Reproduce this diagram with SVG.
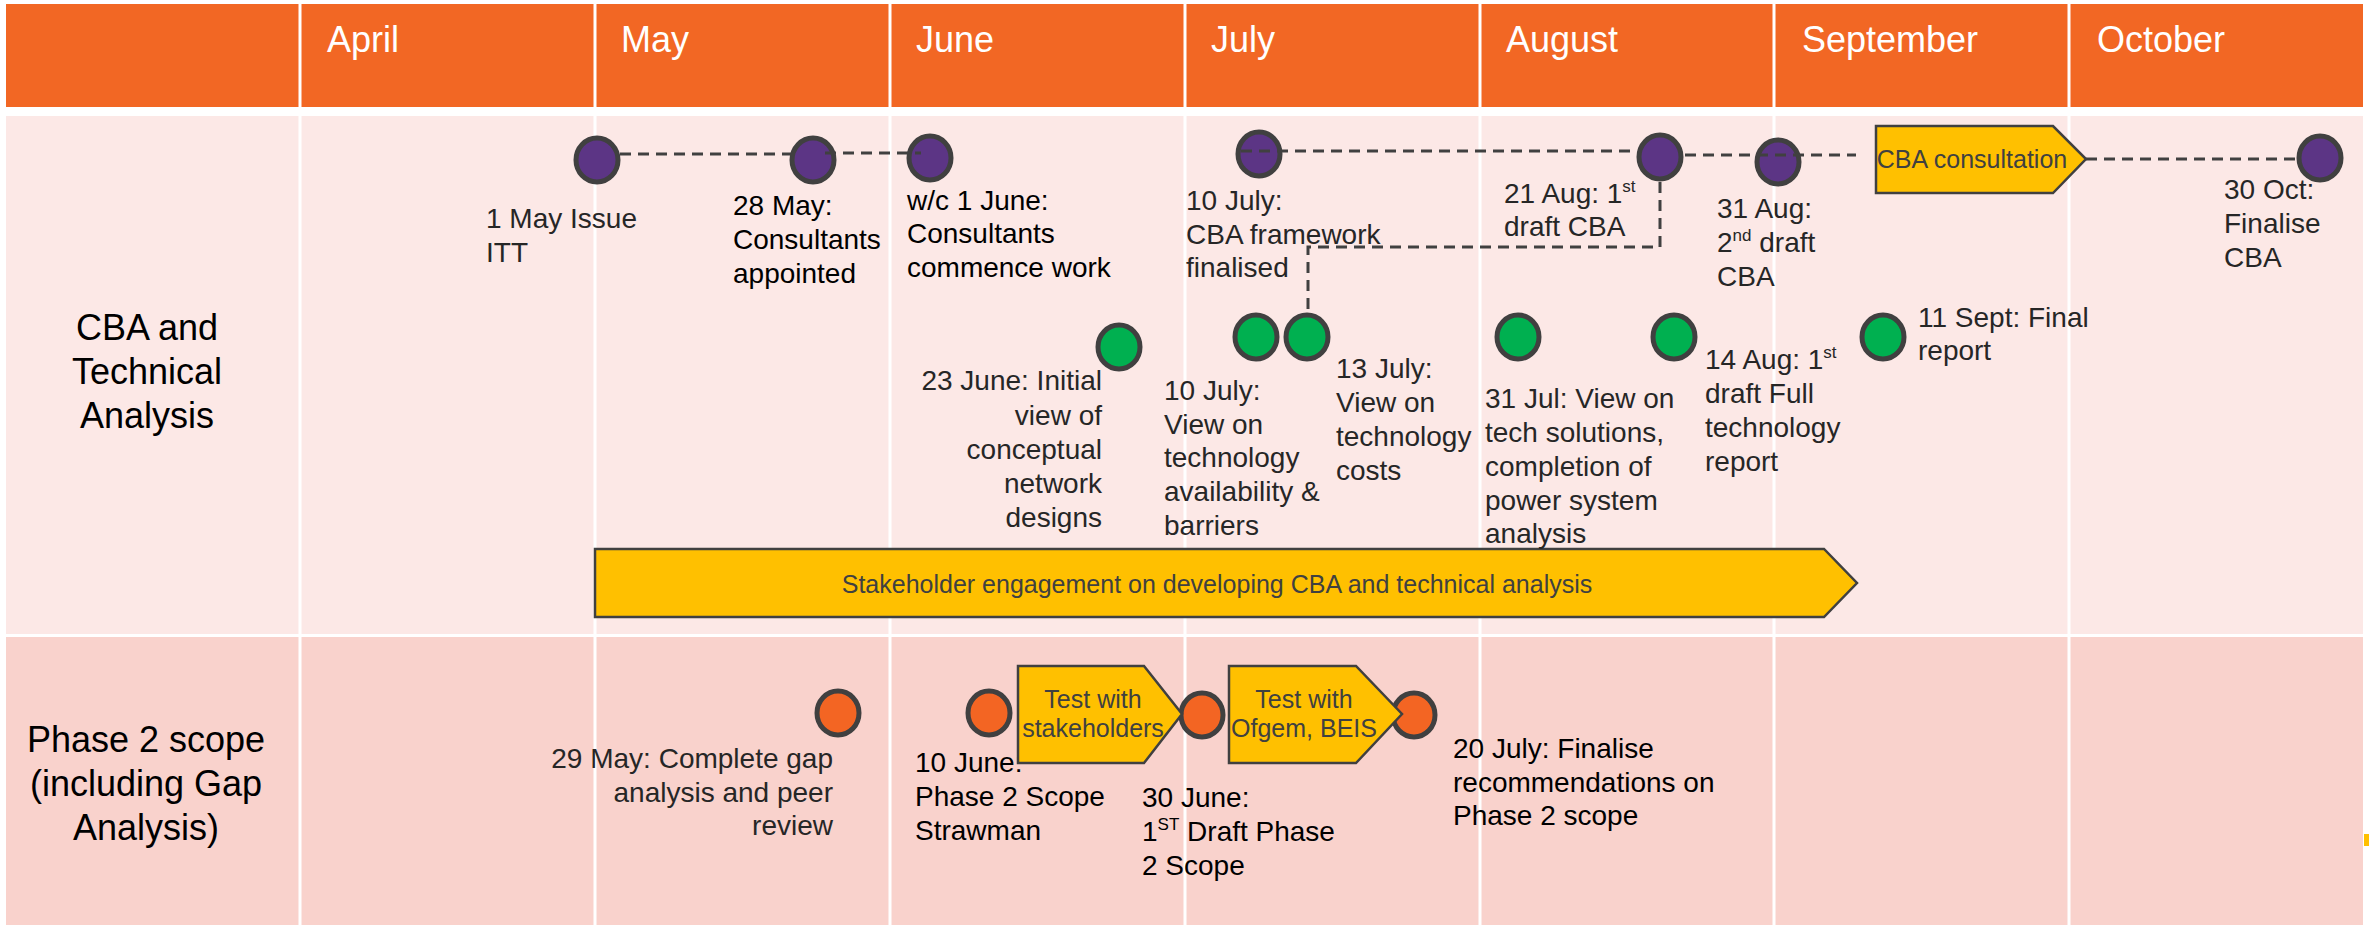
<svg xmlns="http://www.w3.org/2000/svg" width="2369" height="925" viewBox="0 0 2369 925">
<style>
text{font-family:"Liberation Sans",Arial,sans-serif}
.month{font-size:36px;fill:#fff}
.row{font-size:36px;fill:#000;text-anchor:middle}
.lbl{font-size:28px;fill:#262626}
.lblk{font-size:28px;fill:#000}
.r{text-anchor:end}
.sup{font-size:17px}
.ms{stroke:#404040;stroke-width:5}
.pur{fill:#5C3585}
.grn{fill:#00B050}
.org{fill:#F36523}
.arrow{fill:#FFC000;stroke:#404040;stroke-width:2.5}
.atxt{font-size:25px;fill:#404040;text-anchor:middle}
.dash{fill:none;stroke:#404040;stroke-width:3;stroke-dasharray:11 7}
.sep{stroke:#fff;stroke-width:3}
</style>
<rect width="2369" height="925" fill="#fff"/>
<g id="grid">
<rect x="6" y="4" width="2357" height="103" fill="#F26724"/>
<rect x="6" y="116" width="2357" height="518" fill="#FCE8E6"/>
<rect x="6" y="637" width="2357" height="288" fill="#F9D2CC"/>
<line class="sep" x1="300" y1="0" x2="300" y2="925"/>
<line class="sep" x1="595" y1="0" x2="595" y2="925"/>
<line class="sep" x1="890" y1="0" x2="890" y2="925"/>
<line class="sep" x1="1185" y1="0" x2="1185" y2="925"/>
<line class="sep" x1="1480" y1="0" x2="1480" y2="925"/>
<line class="sep" x1="1774" y1="0" x2="1774" y2="925"/>
<line class="sep" x1="2069" y1="0" x2="2069" y2="925"/>
<rect x="2364" y="834" width="6" height="12" fill="#FFC000"/>
</g>
<g id="months">
<text class="month" x="327" y="52">April</text>
<text class="month" x="621" y="52">May</text>
<text class="month" x="916" y="52">June</text>
<text class="month" x="1211" y="52">July</text>
<text class="month" x="1506" y="52">August</text>
<text class="month" x="1802" y="52">September</text>
<text class="month" x="2097" y="52">October</text>
</g>
<g id="row-cba">
<text class="row"><tspan x="147" y="340">CBA and</tspan><tspan x="147" y="384">Technical</tspan><tspan x="147" y="428">Analysis</tspan></text>
</g>
<g id="row-phase2">
<text class="row"><tspan x="146" y="752">Phase 2 scope</tspan><tspan x="146" y="796">(including Gap</tspan><tspan x="146" y="840">Analysis)</tspan></text>
</g>
<g id="stakeholder-engagement">
<polygon class="arrow" points="595,549 1824,549 1857,583 1824,617 595,617"/>
<text class="atxt" x="1217" y="593">Stakeholder engagement on developing CBA and technical analysis</text>
</g>
<g id="cba-consultation">
<polygon class="arrow" points="1876,126 2053,126 2086,159 2053,193 1876,193"/>
<text class="atxt" x="1972" y="168">CBA consultation</text>
</g>
<g id="m-1may">
<ellipse class="ms pur" cx="597" cy="160" rx="21" ry="22"/>
<text class="lbl"><tspan x="486" y="228">1 May Issue</tspan><tspan x="486" y="262">ITT</tspan></text>
</g>
<g id="m-28may">
<ellipse class="ms pur" cx="813" cy="160" rx="21" ry="22"/>
<text class="lblk"><tspan x="733" y="215">28 May:</tspan><tspan x="733" y="249">Consultants</tspan><tspan x="733" y="283">appointed</tspan></text>
</g>
<g id="m-1june">
<ellipse class="ms pur" cx="930" cy="158" rx="21" ry="22"/>
<text class="lblk"><tspan x="907" y="210">w/c 1 June:</tspan><tspan x="907" y="243">Consultants</tspan><tspan x="907" y="277">commence work</tspan></text>
</g>
<g id="m-10july-cba">
<ellipse class="ms pur" cx="1259" cy="154" rx="21" ry="22"/>
<text class="lbl"><tspan x="1186" y="210">10 July:</tspan><tspan x="1186" y="244">CBA framework</tspan><tspan x="1186" y="277">finalised</tspan></text>
</g>
<g id="m-21aug">
<ellipse class="ms pur" cx="1660" cy="157" rx="21" ry="22"/>
<text class="lbl"><tspan x="1504" y="203">21 Aug: 1</tspan><tspan class="sup" dy="-11">st</tspan><tspan x="1504" y="236">draft CBA</tspan></text>
</g>
<g id="m-31aug">
<ellipse class="ms pur" cx="1778" cy="162" rx="21" ry="22"/>
<text class="lbl"><tspan x="1717" y="218">31 Aug:</tspan><tspan x="1717" y="252">2</tspan><tspan class="sup" dy="-11">nd</tspan><tspan dy="11"> draft</tspan><tspan x="1717" y="286">CBA</tspan></text>
</g>
<g id="m-30oct">
<ellipse class="ms pur" cx="2320" cy="158" rx="21" ry="22"/>
<text class="lbl"><tspan x="2224" y="199">30 Oct:</tspan><tspan x="2224" y="233">Finalise</tspan><tspan x="2224" y="267">CBA</tspan></text>
</g>
<g id="m-23june">
<ellipse class="ms grn" cx="1119" cy="347" rx="21" ry="22"/>
<text class="lbl r"><tspan x="1102" y="390">23 June: Initial</tspan><tspan x="1102" y="425">view of</tspan><tspan x="1102" y="459">conceptual</tspan><tspan x="1102" y="493">network</tspan><tspan x="1102" y="527">designs</tspan></text>
</g>
<g id="m-10july-tech">
<ellipse class="ms grn" cx="1256" cy="337" rx="21" ry="22"/>
<text class="lbl"><tspan x="1164" y="400">10 July:</tspan><tspan x="1164" y="434">View on</tspan><tspan x="1164" y="467">technology</tspan><tspan x="1164" y="501">availability &amp;</tspan><tspan x="1164" y="535">barriers</tspan></text>
</g>
<g id="m-13july">
<ellipse class="ms grn" cx="1307" cy="337" rx="21" ry="22"/>
<text class="lbl"><tspan x="1336" y="378">13 July:</tspan><tspan x="1336" y="412">View on</tspan><tspan x="1336" y="446">technology</tspan><tspan x="1336" y="480">costs</tspan></text>
</g>
<g id="m-31jul">
<ellipse class="ms grn" cx="1518" cy="337" rx="21" ry="22"/>
<text class="lbl"><tspan x="1485" y="408">31 Jul: View on</tspan><tspan x="1485" y="442">tech solutions,</tspan><tspan x="1485" y="476">completion of</tspan><tspan x="1485" y="510">power system</tspan><tspan x="1485" y="543">analysis</tspan></text>
</g>
<g id="m-14aug">
<ellipse class="ms grn" cx="1674" cy="337" rx="21" ry="22"/>
<text class="lbl"><tspan x="1705" y="369">14 Aug: 1</tspan><tspan class="sup" dy="-11">st</tspan><tspan x="1705" y="403">draft Full</tspan><tspan x="1705" y="437">technology</tspan><tspan x="1705" y="471">report</tspan></text>
</g>
<g id="m-11sept">
<ellipse class="ms grn" cx="1883" cy="337" rx="21" ry="22"/>
<text class="lbl"><tspan x="1918" y="327">11 Sept: Final</tspan><tspan x="1918" y="360">report</tspan></text>
</g>
<g id="m-29may">
<ellipse class="ms org" cx="838" cy="713" rx="21" ry="22"/>
<text class="lbl r"><tspan x="833" y="768">29 May: Complete gap</tspan><tspan x="833" y="802">analysis and peer</tspan><tspan x="833" y="835">review</tspan></text>
</g>
<g id="m-10june">
<ellipse class="ms org" cx="989" cy="713" rx="21" ry="22"/>
<text class="lblk"><tspan x="915" y="772">10 June:</tspan><tspan x="915" y="806">Phase 2 Scope</tspan><tspan x="915" y="840">Strawman</tspan></text>
</g>
<g id="m-30june">
<ellipse class="ms org" cx="1202" cy="715" rx="21" ry="22"/>
<text class="lblk"><tspan x="1142" y="807">30 June:</tspan><tspan x="1142" y="841">1</tspan><tspan class="sup" dy="-11">ST</tspan><tspan dy="11"> Draft Phase</tspan><tspan x="1142" y="875">2 Scope</tspan></text>
</g>
<g id="m-20july">
<ellipse class="ms org" cx="1414" cy="715" rx="21" ry="22"/>
<text class="lblk"><tspan x="1453" y="758">20 July: Finalise</tspan><tspan x="1453" y="792">recommendations on</tspan><tspan x="1453" y="825">Phase 2 scope</tspan></text>
</g>
<g id="test-stakeholders">
<polygon class="arrow" points="1018,666 1144,666 1182,714 1144,763 1018,763"/>
<text class="atxt"><tspan x="1093" y="708">Test with</tspan><tspan x="1093" y="737">stakeholders</tspan></text>
</g>
<g id="test-ofgem">
<polygon class="arrow" points="1229,666 1356,666 1402,714 1356,763 1229,763"/>
<text class="atxt"><tspan x="1304" y="708">Test with</tspan><tspan x="1304" y="737">Ofgem, BEIS</tspan></text>
</g>
<g id="connectors">
<line class="dash" x1="620" y1="154" x2="791" y2="154"/>
<line class="dash" x1="825" y1="153" x2="921" y2="153"/>
<line class="dash" x1="1241" y1="151" x2="1637" y2="151"/>
<line class="dash" x1="1685" y1="155" x2="1856" y2="155"/>
<line class="dash" x1="2086" y1="159" x2="2299" y2="159"/>
<polyline class="dash" points="1660,182 1660,247 1308,247 1308,313"/>
</g>
</svg>
